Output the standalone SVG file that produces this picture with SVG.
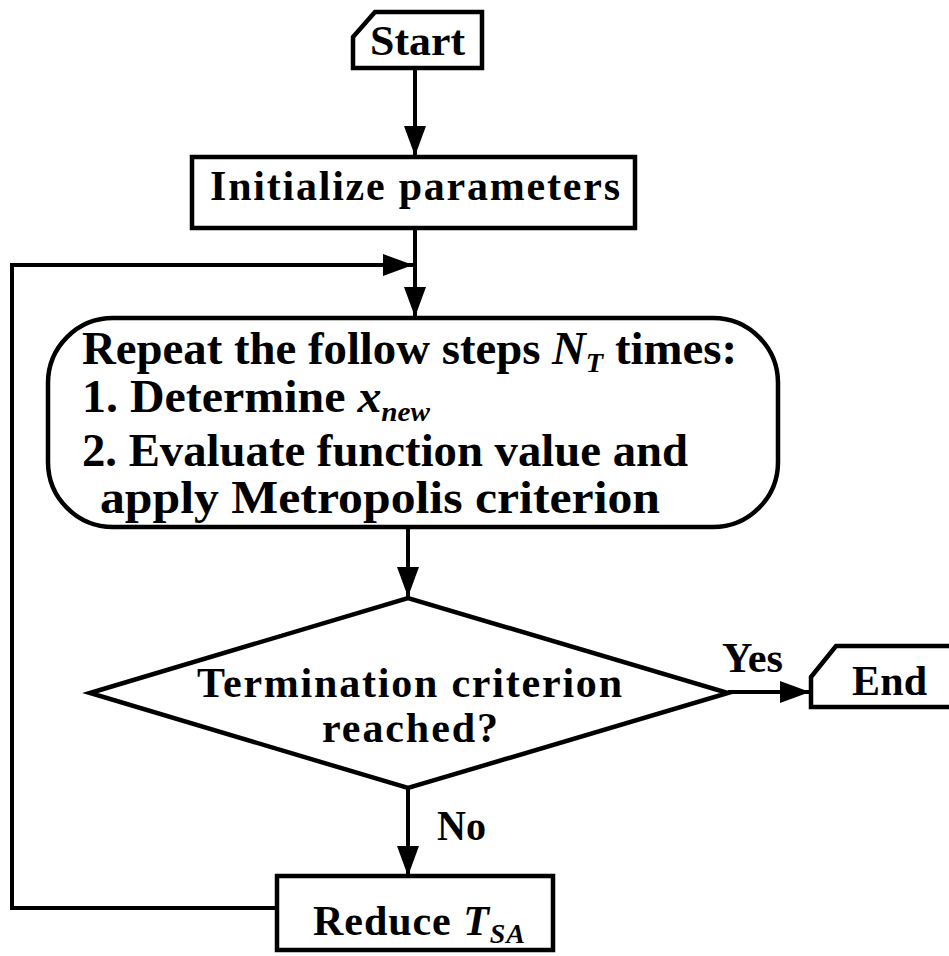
<svg xmlns="http://www.w3.org/2000/svg" width="949" height="956" viewBox="0 0 949 956">
<style>
.s{fill:#fff;stroke:#000;stroke-width:4.5;stroke-linejoin:miter}
.c{fill:none;stroke:#000;stroke-width:4}
text{font-family:"Liberation Serif","Times New Roman",serif;font-weight:bold;font-size:42px;fill:#000}
.b{font-size:46px}
.i{font-style:italic}
.sub{font-style:italic;font-size:28px}
</style>
<defs>
<marker id="a" viewBox="0 0 30 22" refX="30" refY="11" markerWidth="30" markerHeight="22" markerUnits="userSpaceOnUse" orient="auto">
<path d="M0,0 L30,11 L0,22 Z" fill="#000"/>
</marker>
</defs>
<g id="connectors">
<line class="c" x1="415" y1="68" x2="415" y2="156" marker-end="url(#a)"/>
<line class="c" x1="415" y1="228" x2="415" y2="317" marker-end="url(#a)"/>
<polyline class="c" points="277,908 12,908 12,265 413,265" marker-end="url(#a)"/>
<line class="c" x1="408" y1="527" x2="408" y2="597" marker-end="url(#a)"/>
<line class="c" x1="728" y1="692" x2="810" y2="692" marker-end="url(#a)"/>
<line class="c" x1="408" y1="788" x2="408" y2="876" marker-end="url(#a)"/>
<text x="722" y="672" textLength="61" lengthAdjust="spacingAndGlyphs">Yes</text>
<text x="437" y="840" textLength="49" lengthAdjust="spacingAndGlyphs">No</text>
</g>
<g id="start">
<polygon class="s" points="353,37 375,12 482,12 482,68 353,68"/>
<text x="370" y="55" textLength="95" lengthAdjust="spacingAndGlyphs">Start</text>
</g>
<g id="init">
<rect class="s" x="192" y="157" width="443" height="71"/>
<text x="210" y="200" textLength="410" lengthAdjust="spacing">Initialize parameters</text>
</g>
<g id="repeat">
<rect class="s" x="48" y="318" width="730" height="209" rx="65" ry="65"/>
<text class="b" x="82" y="364" textLength="655" lengthAdjust="spacingAndGlyphs">Repeat the follow steps <tspan class="i">N</tspan><tspan class="sub" dy="8">T</tspan><tspan dy="-8"> times:</tspan></text>
<text class="b" x="82" y="412" textLength="348" lengthAdjust="spacingAndGlyphs">1. Determine <tspan class="i">x</tspan><tspan class="sub" dy="9">new</tspan></text>
<text class="b" x="82" y="466" textLength="606" lengthAdjust="spacingAndGlyphs">2. Evaluate function value and</text>
<text class="b" x="100" y="513" textLength="560" lengthAdjust="spacingAndGlyphs">apply Metropolis criterion</text>
</g>
<g id="decision">
<polygon class="s" points="90,693 408,598 728,693 408,788"/>
<text x="197" y="697" textLength="425" lengthAdjust="spacing">Termination criterion</text>
<text x="322" y="742" textLength="176" lengthAdjust="spacing">reached?</text>
</g>
<g id="end">
<polygon class="s" points="811,677 836,646 952,646 952,707 811,707"/>
<text x="852" y="695" textLength="75" lengthAdjust="spacing">End</text>
</g>
<g id="reduce">
<rect class="s" x="277" y="876" width="276" height="74"/>
<text x="313" y="935" textLength="212" lengthAdjust="spacing">Reduce <tspan class="i">T</tspan><tspan class="sub" dy="8">SA</tspan></text>
</g>
</svg>
